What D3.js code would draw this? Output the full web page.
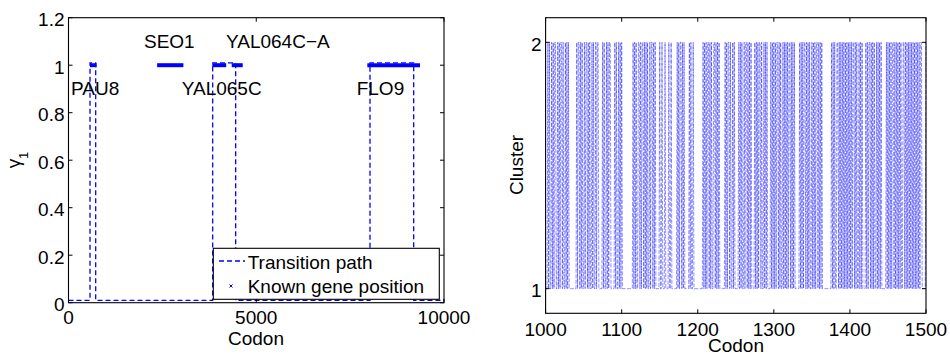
<!DOCTYPE html>
<html>
<head>
<meta charset="utf-8">
<script src="https://cdn.jsdelivr.net/npm/d3@7"></script>
<style>
  html, body { margin: 0; padding: 0; background: #fff; }
  svg { display: block; font-family: "Liberation Sans", Arial, Helvetica, sans-serif; }
</style>
</head>
<body>
<svg id="chart" width="950" height="354"></svg>
<script>
// ---- left panel data ----
const pathCodon = [0, 573, 573, 724, 724, 3840, 3840, 4452, 4452, 8029, 8029, 9193, 9193, 10000];
const pathGamma = [0.01, 0.01, 1.01, 1.01, 0.01, 0.01, 1.01, 1.01, 0.01, 0.01, 1.01, 1.01, 0.01, 0.01];
const geneNames = ["PAU8", "SEO1", "YAL065C", "YAL064C\u2212A", "FLO9"];
const geneStart = [573, 2360, 3830, 4346, 7958];
const geneEnd = [750, 3060, 4200, 4640, 9361];
const geneLabelX = [67, 2010, 3015, 4194, 7675];
const geneLabelY = [0.9, 1.1, 0.9, 1.1, 0.9];
const leftXTicks = [0, 5000, 10000];
const leftYTicks = [0, 0.2, 0.4, 0.6, 0.8, 1, 1.2];

// ---- right panel data: cluster = 1 except inside these bands ----
const bandStart = [1003, 1041, 1061, 1075, 1091, 1115, 1150, 1173, 1189, 1207,
                   1236, 1254, 1275, 1296, 1334, 1376, 1398, 1421, 1448, 1485, 1499];
const bandPattern = [
  "2121121212211212122121121212",
  "212212121121221212",
  "212112122",
  "21211212122",
  "2121121212",
  "212121122121221212121121221212",
  "2112111211112112",
  "2121221212",
  "212112",
  "2121212212121122121212",
  "21212212112121",
  "212121121221212121",
  "212121221211212121",
  "212121212212121121212121221212121",
  "212121221212121121212122121212",
  "212121122121212121212",
  "2121212212121121212",
  "2121221212121121212121",
  "212121212212121212121122121212121212",
  "21212121221",
  "12"
];
const rightXTicks = [1000, 1100, 1200, 1300, 1400, 1500];
const rightYTicks = [1, 2];

const svg = d3.select("#chart");
const FS = 19;
const blue = "#0000ff";

function frame(g, x, y, xTicks, yTicks, fmtY, xLabOff) {
  const [x0, x1] = x.range();
  const [y0, y1] = y.range();
  const tl = 4;
  // ticks (inside, on all four sides)
  xTicks.forEach(t => {
    g.append("line").attr("x1", x(t)).attr("x2", x(t)).attr("y1", y0).attr("y2", y0 - tl).attr("stroke", "#000");
    g.append("line").attr("x1", x(t)).attr("x2", x(t)).attr("y1", y1).attr("y2", y1 + tl).attr("stroke", "#000");
  });
  yTicks.forEach(t => {
    g.append("line").attr("x1", x0).attr("x2", x0 + tl).attr("y1", y(t)).attr("y2", y(t)).attr("stroke", "#000");
    g.append("line").attr("x1", x1).attr("x2", x1 - tl).attr("y1", y(t)).attr("y2", y(t)).attr("stroke", "#000");
  });
  g.append("rect").attr("x", x0).attr("y", y1).attr("width", x1 - x0).attr("height", y0 - y1)
    .attr("fill", "none").attr("stroke", "#000").attr("stroke-width", 1.1);
  xTicks.forEach(t => {
    g.append("text").attr("x", x(t)).attr("y", y0 + xLabOff).attr("text-anchor", "middle")
      .attr("font-size", FS).text(t);
  });
  yTicks.forEach(t => {
    g.append("text").attr("x", x0 - 4).attr("y", y(t) + 2).attr("text-anchor", "end")
      .attr("dominant-baseline", "central").attr("font-size", FS).text(fmtY(t));
  });
}

// ================= left panel =================
const xL = d3.scaleLinear().domain([0, 10000]).range([68.5, 444]);
const yL = d3.scaleLinear().domain([0, 1.2]).range([302.7, 17.7]);
const gL = svg.append("g");

const pathData = pathCodon.map((c, i) => ({ c, v: pathGamma[i] }));
gL.append("path").datum(pathData)
  .attr("fill", "none").attr("stroke", blue).attr("stroke-width", 1.3)
  .attr("stroke-dasharray", "5,3")
  .attr("d", d3.line().x(d => xL(d.c)).y(d => yL(d.v)));

geneNames.forEach((n, i) => {
  gL.append("line")
    .attr("x1", xL(geneStart[i])).attr("x2", xL(geneEnd[i]))
    .attr("y1", yL(1)).attr("y2", yL(1))
    .attr("stroke", blue).attr("stroke-width", 4);
  gL.append("text").attr("x", xL(geneLabelX[i])).attr("y", yL(geneLabelY[i]))
    .attr("dominant-baseline", "central").attr("font-size", FS).text(n);
});

frame(gL, xL, yL, leftXTicks, leftYTicks, t => t, 21.5);

gL.append("text").attr("x", 256).attr("y", 345).attr("text-anchor", "middle")
  .attr("font-size", FS).text("Codon");
const yLab = gL.append("text").attr("transform", "translate(20,160) rotate(-90)")
  .attr("text-anchor", "middle").attr("font-size", FS);
yLab.append("tspan").text("\u03b3");
yLab.append("tspan").attr("baseline-shift", "sub").attr("font-size", 13).text("1");

// legend
const lg = gL.append("g");
lg.append("rect").attr("x", 213.3).attr("y", 248.3).attr("width", 226).attr("height", 51)
  .attr("fill", "#fff").attr("stroke", "#000").attr("stroke-width", 1.1);
lg.append("line").attr("x1", 219).attr("x2", 245).attr("y1", 261).attr("y2", 261)
  .attr("stroke", blue).attr("stroke-width", 1.3).attr("stroke-dasharray", "5,3");
lg.append("path").attr("d", "M229.5,284.5 L232.5,287.5 M232.5,284.5 L229.5,287.5")
  .attr("stroke", blue).attr("stroke-width", 1);
lg.append("text").attr("x", 247.7).attr("y", 269).attr("font-size", FS).text("Transition path");
lg.append("text").attr("x", 247.7).attr("y", 292.7).attr("font-size", FS).text("Known gene position");

// ================= right panel =================
const xR = d3.scaleLinear().domain([1000, 1500]).range([545.6, 926]);
const yR = d3.scaleLinear().domain([0.9, 2.1]).range([313.3, 17.7]);
const gR = svg.append("g");

const cluster = new Map(d3.range(1000, 1501).map(c => [c, 1]));
bandStart.forEach((s, i) => {
  bandPattern[i].split("").forEach((ch, k) => {
    if (s + k <= 1500) cluster.set(s + k, +ch);
  });
});
const clusterData = Array.from(cluster, ([c, v]) => ({ c, v }));

gR.append("path").datum(clusterData)
  .attr("fill", "none").attr("stroke", blue).attr("stroke-width", 0.45)
  .attr("stroke-dasharray", "4,1.5")
  .attr("d", d3.line().x(d => xR(d.c)).y(d => yR(d.v)));

frame(gR, xR, yR, rightXTicks, rightYTicks, t => t, 22.5);

gR.append("text").attr("x", 736).attr("y", 351.5).attr("text-anchor", "middle")
  .attr("font-size", FS).text("Codon");
gR.append("text").attr("transform", "translate(523,165) rotate(-90)")
  .attr("text-anchor", "middle").attr("font-size", FS).text("Cluster");
</script>
</body>
</html>
